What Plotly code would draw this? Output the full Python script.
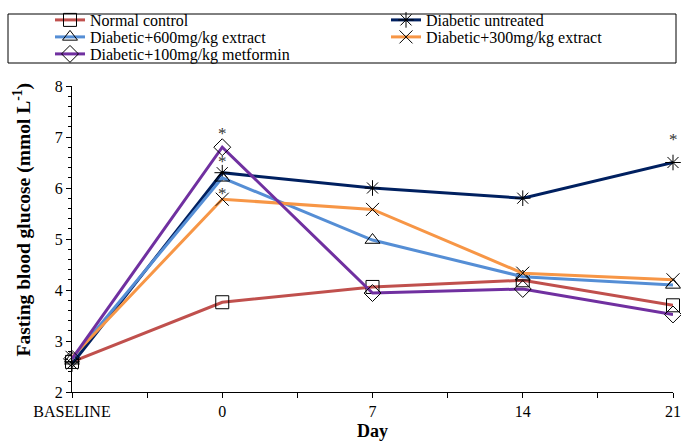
import plotly.graph_objects as go

categories = ["BASELINE", "0", "7", "14", "21"]
normal_control = [2.59, 3.76, 4.06, 4.19, 3.70]
diabetic_untreated = [2.55, 6.30, 6.00, 5.80, 6.50]
diabetic_600 = [2.65, 6.20, 4.98, 4.26, 4.10]
diabetic_300 = [2.68, 5.78, 5.58, 4.33, 4.20]
diabetic_metformin = [2.65, 6.80, 3.94, 4.02, 3.52]

sig_x = [1, 1, 1, 4]
sig_y = [7.07, 6.52, 5.90, 6.95]

series = [
    ("Normal control", normal_control, "#C0504D", "square-open"),
    ("Diabetic untreated", diabetic_untreated, "#002060", "asterisk-open"),
    ("Diabetic+600mg/kg extract", diabetic_600, "#558ED5", "triangle-up-open"),
    ("Diabetic+300mg/kg extract", diabetic_300, "#F79646", "x-thin-open"),
    ("Diabetic+100mg/kg metformin", diabetic_metformin, "#7030A0", "diamond-open"),
]

# legend slot positions (pixel, from top-left): box-left x, row-centre y
L, T, W, H = 72, 86, 601, 306
legend_pos = [(50, 20), (386, 20), (50, 37), (386, 37), (50, 54)]

font = "Times New Roman, Liberation Serif, serif"
xs = list(range(len(categories)))
fig = go.Figure()
layout_legends = {}
for i, (name, vals, col, sym) in enumerate(series):
    lid = "legend" if i == 0 else f"legend{i + 1}"
    fig.add_trace(go.Scatter(
        x=xs, y=vals, name=name, mode="lines+markers", legend=lid,
        line=dict(color=col, width=3),
        marker=dict(symbol=sym, size=13, color="black", line=dict(color="black", width=1)),
        cliponaxis=False,
    ))
    px, py = legend_pos[i]
    layout_legends[lid] = dict(
        x=(px - L) / W, y=(T + H - py) / H,
        xanchor="left", yanchor="middle", orientation="v",
        font=dict(family=font, size=16, color="black"),
        bgcolor="rgba(0,0,0,0)", borderwidth=0, itemwidth=30,
    )

for x, y in zip(sig_x, sig_y):
    fig.add_annotation(x=x, y=y, text="*", showarrow=False,
                       font=dict(family=font, size=17, color="#333"))

# y-axis title (placed like the original, slightly above the plot centre)
fig.add_annotation(xref="paper", yref="paper", x=(22 - L) / W, y=(T + H - 219.5) / H,
                   text="<b>Fasting blood glucose (mmol L<sup>-1</sup>)</b>",
                   textangle=-90, showarrow=False, xanchor="center", yanchor="middle",
                   font=dict(family=font, size=19.5, color="black"))

fig.update_layout(
    width=681, height=441,
    margin=dict(l=L, r=681 - L - W, t=T, b=441 - T - H, autoexpand=False),
    plot_bgcolor="white", paper_bgcolor="white",
    font=dict(family=font, size=16, color="black"),
    showlegend=True,
    xaxis=dict(range=[0, 4], tickvals=xs, ticktext=categories, showgrid=False,
               zeroline=False, showline=True, linecolor="black", linewidth=1,
               ticks="outside", ticklen=5, tickcolor="black", automargin=False,
               ticklabeloverflow="allow",
               minor=dict(dtick=0.5, tick0=0, ticks="outside", ticklen=5, tickcolor="black"),
               title=dict(text="<b>Day</b>", font=dict(family=font, size=18), standoff=12),
               tickfont=dict(family=font, size=16)),
    yaxis=dict(range=[2, 8], dtick=1, showgrid=False, zeroline=False, showline=True,
               linecolor="black", linewidth=1, ticks="outside", ticklen=5, tickcolor="black",
               automargin=False,
               minor=dict(dtick=0.2, ticks="outside", ticklen=3, tickcolor="black"),
               tickfont=dict(family=font, size=16)),
    **layout_legends,
)
fig.add_shape(type="rect", xref="paper", yref="paper",
              x0=(8 - L) / W, x1=(676 - L) / W,
              y0=(T + H - 63) / H, y1=(T + H - 14) / H,
              line=dict(color="black", width=1), fillcolor="rgba(0,0,0,0)", layer="above")
fig.write_html("out.html", config={"displayModeBar": False},
               post_script="document.body.style.margin='0';document.body.style.overflow='hidden';")
